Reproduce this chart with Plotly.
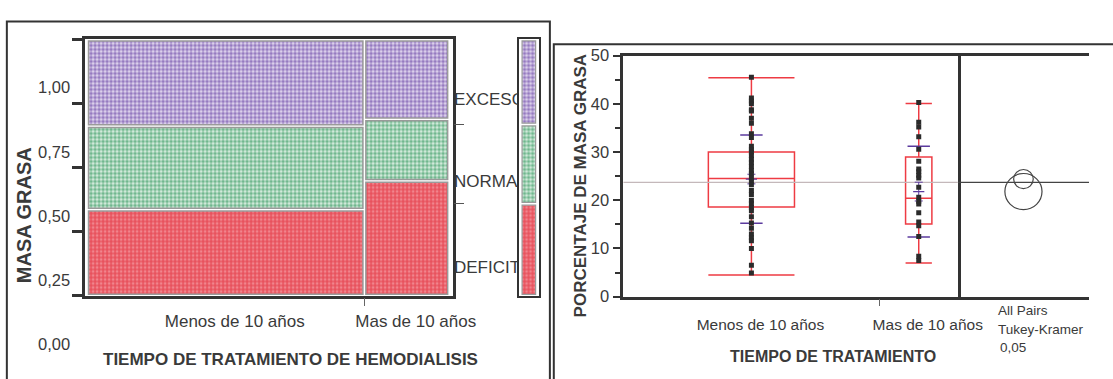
import plotly.graph_objects as go

# ---------------- data ----------------
groups = ["Menos de 10 años", "Mas de 10 años"]
group_share = [0.766, 0.234]          # mosaic column widths
levels = ["DEFICIT", "NORMAL", "EXCESO"]
share_deficit = [0.336, 0.448]
share_normal = [0.326, 0.240]
share_exceso = [0.338, 0.312]
marginal_share = [0.359, 0.309, 0.332]  # DEFICIT, NORMAL, EXCESO overall
mosaic_ticks = [0.0, 0.25, 0.50, 0.75, 1.0]
mosaic_ticktext = ["0,00", "0,25", "0,50", "0,75", "1,00"]

group_n = [36, 11]
menos_pts = [45.5, 41.2, 40.6, 40.0, 38.8, 38.5, 37.0, 36.0, 33.8, 33.0, 31.2, 30.5,
             30.0, 29.3, 28.5, 27.8, 27.0, 26.2, 25.5, 24.6, 24.0, 23.2, 22.0, 21.2,
             20.0, 19.3, 18.5, 17.8, 16.6, 15.3, 14.2, 13.0, 12.2, 11.6, 10.0, 6.5, 4.9]
mas_pts = [40.3, 36.2, 35.2, 33.2, 30.6, 28.1, 26.5, 25.9, 25.2, 24.6, 22.7, 20.6,
           19.8, 19.2, 17.4, 15.5, 14.7, 12.5, 8.4, 7.5]
box_low = [4.5, 7.0]
box_q1 = [18.6, 15.1]
box_med = [24.5, 20.4]
box_q3 = [30.0, 29.0]
box_high = [45.4, 40.1]
group_mean = [24.4, 21.8]
group_sd = [9.15, 9.4]
group_se = [1.0, 1.95]
circle_radius = [1.98, 3.75]
grand_mean = 23.7

# ---------------- helpers ----------------
W, H = 1113, 379
def px(x):
    return x / W
def py(y):
    return 1 - y / H

TXT = "#3a3a3a"
AX = "#333333"
FONT = "Liberation Sans, Arial, sans-serif"
PURPLE = "#5b3a9e"

fig = go.Figure()

# ---------------- mosaic ----------------
gap_x = 0.008
gap_y = 0.011
starts = [sum(group_share[:i]) for i in range(len(group_share))]
centers = [s + w / 2 for s, w in zip(starts, group_share)]
widths = [w - gap_x for w in group_share]

patterns = {
    "DEFICIT": dict(shape=".", fgcolor="#dc0a18", bgcolor="#f49aa2", size=4, solidity=0.75),
    "NORMAL": dict(shape=".", fgcolor="#03803a", bgcolor="#dcefe2", size=4, solidity=0.62),
    "EXCESO": dict(shape=".", fgcolor="#481a90", bgcolor="#e3daf0", size=4, solidity=0.62),
}
stack = [share_deficit, share_normal, share_exceso]
cum = [0.0, 0.0]
for lvl, vals in zip(levels, stack):
    fig.add_trace(go.Bar(
        x=centers, y=[v - gap_y for v in vals], base=[c + gap_y / 2 for c in cum],
        width=widths, xaxis="x", yaxis="y", showlegend=False, hoverinfo="skip",
        marker=dict(color="white", pattern=patterns[lvl], line=dict(color="#9a9a9a", width=1.5)),
    ))
    cum = [c + v for c, v in zip(cum, vals)]

# marginal bar
mcum = 0.0
for lvl, v in zip(levels, marginal_share):
    fig.add_trace(go.Bar(
        x=[0.5], y=[v - gap_y], base=[mcum + gap_y / 2], width=[0.66],
        xaxis="x5", yaxis="y5", showlegend=False, hoverinfo="skip",
        marker=dict(color="white", pattern=patterns[lvl], line=dict(color="#9a9a9a", width=1.2)),
    ))
    mcum += v

# level labels (clipped at marginal bar)
mcum = 0.0
mids = []
for v in marginal_share:
    mids.append(mcum + v / 2)
    mcum += v
fig.add_trace(go.Scatter(
    x=[0, 0, 0], y=mids, text=levels, mode="text", textposition="middle right",
    textfont=dict(family=FONT, size=17, color=TXT), cliponaxis=True,
    xaxis="x6", yaxis="y6", showlegend=False, hoverinfo="skip"))

# right-side ticks at marginal boundaries (dummy trace to show axis)
bounds = [marginal_share[0], marginal_share[0] + marginal_share[1]]
fig.add_trace(go.Scatter(x=[0.5], y=[0.5], mode="markers", marker=dict(opacity=0),
                         xaxis="x", yaxis="y7", showlegend=False, hoverinfo="skip"))

# ---------------- box plot ----------------
tot = sum(group_n)
bstarts = [sum(group_n[:i]) for i in range(len(group_n))]
bcenters = [s + n / 2 for s, n in zip(bstarts, group_n)]
bwidth = [n * 0.336 for n in group_n]

# grand mean line
fig.add_trace(go.Scatter(x=[0, tot], y=[grand_mean, grand_mean], mode="lines",
                         line=dict(color="#c4b8ba", width=1.2), xaxis="x3", yaxis="y3",
                         showlegend=False, hoverinfo="skip"))

for i in range(2):
    fig.add_trace(go.Box(
        x=[bcenters[i]], q1=[box_q1[i]], median=[box_med[i]], q3=[box_q3[i]],
        lowerfence=[box_low[i]], upperfence=[box_high[i]], width=bwidth[i],
        whiskerwidth=1, boxpoints=False, fillcolor="rgba(0,0,0,0)",
        line=dict(color="#ee3b43", width=1.5), xaxis="x3", yaxis="y3",
        showlegend=False, hoverinfo="skip"))
    # std dev lines
    fig.add_trace(go.Scatter(
        x=[bcenters[i]] * 2, y=[group_mean[i] - group_sd[i], group_mean[i] + group_sd[i]],
        mode="markers", marker=dict(symbol="line-ew", size=16, line=dict(color=PURPLE, width=1.5)),
        xaxis="x3", yaxis="y3", showlegend=False, hoverinfo="skip"))
    # mean error bars
    fig.add_trace(go.Scatter(
        x=[bcenters[i]], y=[group_mean[i]], mode="markers",
        marker=dict(symbol="line-ew", size=8, line=dict(color=PURPLE, width=1.2)),
        error_y=dict(type="data", array=[group_se[i]], width=4, color=PURPLE, thickness=1),
        xaxis="x3", yaxis="y3", showlegend=False, hoverinfo="skip"))

for i, pts in enumerate([menos_pts, mas_pts]):
    fig.add_trace(go.Scatter(
        x=[bcenters[i]] * len(pts), y=pts, mode="markers",
        marker=dict(symbol="square", size=5, color="#2b2b2b"),
        xaxis="x3", yaxis="y3", showlegend=False, hoverinfo="skip"))

# comparison circles panel
ppu = (302 - 49) / 50.0
cw = (W - 979) / ppu
fig.add_trace(go.Scatter(x=[0, cw], y=[grand_mean, grand_mean], mode="lines",
                         line=dict(color="#444444", width=1.2), xaxis="x4", yaxis="y4",
                         showlegend=False, hoverinfo="skip"))
shapes = []
for m, r in zip(group_mean, circle_radius):
    shapes.append(dict(type="circle", xref="x4", yref="y4",
                       x0=cw / 2 - r, x1=cw / 2 + r, y0=m - r, y1=m + r,
                       line=dict(color="#444444", width=1.2)))

# panel frames
shapes.append(dict(type="rect", xref="paper", yref="paper", x0=px(7), x1=px(562),
                   y0=-0.1, y1=py(13), line=dict(color=AX, width=2)))
shapes.append(dict(type="rect", xref="paper", yref="paper", x0=px(566), x1=1.1,
                   y0=-0.1, y1=py(37), line=dict(color=AX, width=2)))

# ---------------- annotations ----------------
ann = []
for v, t in zip(mosaic_ticks, mosaic_ticktext):
    ann.append(dict(x=px(74), xref="paper", xanchor="right", y=v, yref="y", yshift=-48,
                    text=t, showarrow=False, font=dict(family=FONT, size=16.5, color=TXT)))
def add_text(x, y, t, size, bold=False, angle=0, xanchor="center"):
    ann.append(dict(x=px(x), y=py(y), xref="paper", yref="paper", text=t, showarrow=False,
                    xanchor=xanchor, yanchor="middle", textangle=angle,
                    font=dict(family=FONT, size=size, color=TXT, weight="bold" if bold else "normal")))
add_text(297, 368, "TIEMPO DE TRATAMIENTO DE HEMODIALISIS", 17, True)
add_text(24, 216, "MASA GRASA", 20, True, -90)
add_text(851, 365, "TIEMPO DE TRATAMIENTO", 16, True)
add_text(593, 185, "PORCENTAJE DE MASA GRASA", 17, True, -90)
add_text(1018, 317, "All Pairs", 13.5, xanchor="left")
add_text(1018, 337, "Tukey-Kramer", 13.5, xanchor="left")
add_text(1020, 355, "0,05", 13.5, xanchor="left")

axline = dict(showline=True, linecolor=AX, linewidth=2.5, showgrid=False, zeroline=False)
hidden = dict(visible=False, showgrid=False, zeroline=False)

fig.update_layout(
    width=W, height=H, margin=dict(l=0, r=0, t=0, b=0),
    paper_bgcolor="white", plot_bgcolor="white", barmode="overlay", showlegend=False,
    font=dict(family=FONT, color=TXT),
    xaxis=dict(domain=[px(87), px(463)], range=[-0.0054, 1.0108], anchor="y", mirror=True,
               tickmode="array", tickvals=centers, ticktext=groups, ticks="",
               tickfont=dict(size=17, color=TXT), ticklabelshift=9, ticklabelstandoff=8,
               minor=dict(tickmode="array", tickvals=[group_share[0]], ticks="outside",
                          ticklen=8, tickwidth=1, tickcolor="#666"),
               **axline),
    yaxis=dict(domain=[py(301), py(32)], range=[0, 1], anchor="x", mirror=True,
               tickmode="array", tickvals=mosaic_ticks, showticklabels=False,
               ticks="outside", ticklen=10, tickwidth=2.5, tickcolor=AX, **axline),
    yaxis7=dict(overlaying="y", side="right", anchor="x", range=[0, 1], tickmode="array",
                tickvals=bounds, ticks="outside", ticklen=10, tickwidth=1, tickcolor="#555",
                showticklabels=False, showline=False, showgrid=False, zeroline=False),
    xaxis5=dict(domain=[px(530), px(551)], range=[0, 1], anchor="y5", mirror=True,
                showticklabels=False, ticks="", showline=True, linecolor=AX, linewidth=2,
                showgrid=False, zeroline=False),
    yaxis5=dict(domain=[py(301), py(32)], range=[0, 1], anchor="x5", mirror=True,
                showticklabels=False, ticks="", showline=True, linecolor=AX, linewidth=2,
                showgrid=False, zeroline=False),
    xaxis6=dict(domain=[px(464), px(529)], range=[0, 1], anchor="y6", **hidden),
    yaxis6=dict(domain=[py(321), py(52)], range=[0, 1], anchor="x6", **hidden),
    xaxis3=dict(domain=[px(637), px(979)], range=[0, tot], anchor="y3", mirror=True,
                tickmode="array", tickvals=bcenters, ticktext=groups, ticks="",
                tickfont=dict(size=15.5, color=TXT), ticklabelshift=9, ticklabelstandoff=12,
                minor=dict(tickmode="array", tickvals=[group_n[0]], ticks="outside",
                           ticklen=7, tickwidth=1, tickcolor="#666"),
                **axline),
    yaxis3=dict(domain=[py(302), py(49)], range=[0, 50], anchor="x3", mirror=True,
                tickmode="linear", tick0=0, dtick=10, ticks="outside", ticklen=8, tickwidth=2,
                tickcolor=AX, tickfont=dict(size=16.5, color=TXT),
                minor=dict(dtick=5, ticks="outside", ticklen=6, tickwidth=2, tickcolor=AX),
                **axline),
    xaxis4=dict(domain=[px(979), 1], range=[0, cw], anchor="y4", mirror=True,
                showticklabels=False, ticks="", **axline),
    yaxis4=dict(domain=[py(302), py(49)], range=[0, 50], anchor="x4", showline=False,
                showticklabels=False, ticks="", showgrid=False, zeroline=False),
    shapes=shapes, annotations=ann,
)

fig.write_html("out.html")
